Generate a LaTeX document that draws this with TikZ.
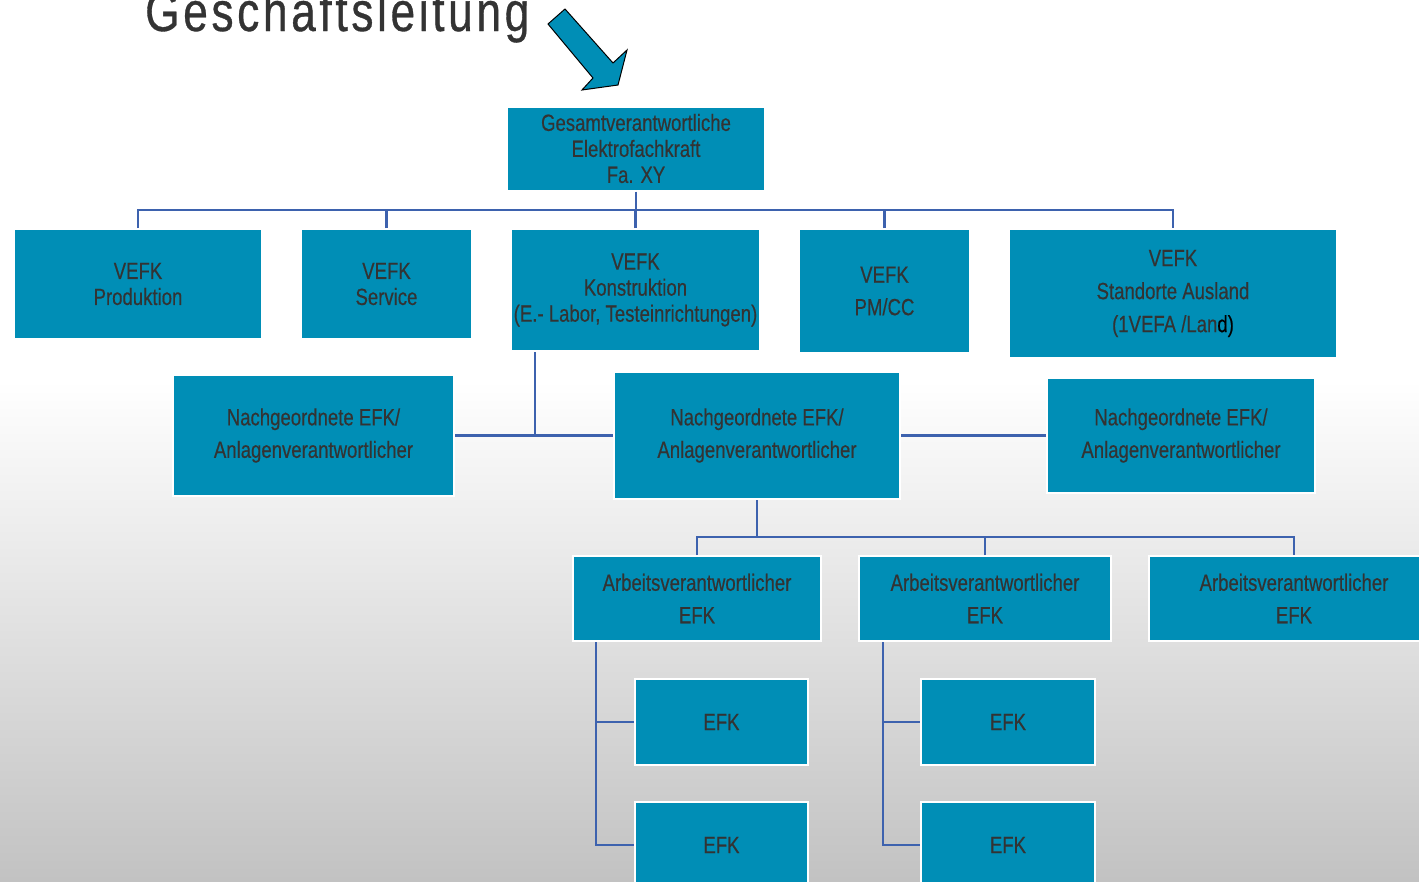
\documentclass[tikz,border=0pt]{standalone}
\usepackage{fontspec}
\setmainfont{Liberation Sans}[FakeStretch=0.79, FakeBold=0.35]
\newfontfamily\titlefont{Liberation Sans}[FakeStretch=0.79, LetterSpace=6.5, FakeBold=0.6]
\usetikzlibrary{positioning, calc}
\definecolor{boxblue}{HTML}{008EB6}
\definecolor{linkblue}{HTML}{3D62AE}
\definecolor{txtgray}{HTML}{333333}
\definecolor{bggray}{HTML}{C2C2C2}
\tikzset{
 orgbox/.style={draw=white, line width=2pt, fill=boxblue, text=txtgray, align=center, inner sep=0pt, font=\fontsize{23.5}{26}\selectfont},
 widelines/.style={font=\fontsize{23.5}{32.5}\selectfont},
 link/.style={draw=linkblue, line width=2.6pt}
}

\begin{document}
\begin{tikzpicture}[x=1pt, y=-1pt]
 \useasboundingbox (0,0) rectangle (1419,881);
 \clip (0,0) rectangle (1419,881);
 \fill[white] (0,0) rectangle (1419,380);
 \shade[top color=white, bottom color=bggray] (0,380) rectangle (1419,881);

 \node[anchor=base west, inner sep=0pt, text=txtgray, font=\titlefont\fontsize{56}{60}\selectfont] (title) at (145,31) {Geschäftsleitung};
 \draw[fill=boxblue, draw=black, line width=1pt] (565,9) -- (613,63) -- (627,50) -- (618,85) -- (582,90) -- (593,78) -- (548,24) -- cycle;

 \node[orgbox, minimum width=258pt, minimum height=84pt] (gevk) at (636,148.5) {Gesamtverantwortliche\\Elektrofachkraft\\Fa. XY};

 \node[orgbox, minimum width=248pt, minimum height=110pt] (vprod) at (138,284) {VEFK\\Produktion};
 \node[orgbox, minimum width=171pt, minimum height=110pt] (vserv) at (386.5,284) {VEFK\\Service};
 \node[orgbox, minimum width=249pt, minimum height=122pt] (vkonst) at (635.5,290) {VEFK\\Konstruktion\\(E.- Labor, Testeinrichtungen)};
 \node[orgbox, widelines, minimum width=171pt, minimum height=124pt] (vpmcc) at (884.5,291) {VEFK\\PM/CC};
 \node[orgbox, font=\fontsize{23.5}{33}\selectfont, minimum width=328pt, minimum height=129pt] (vausl) at (1173,293.5) {VEFK\\Standorte Ausland\\(1VEFA /Lan\textcolor{black}{d)}};

 \node[orgbox, widelines, minimum width=281pt, minimum height=121pt] (nefkl) at (313.5,435.5) {Nachgeordnete EFK/\\Anlagenverantwortlicher};
 \node[orgbox, widelines, minimum width=286pt, minimum height=127pt] (nefkm) at (757,435.5) {Nachgeordnete EFK/\\Anlagenverantwortlicher};
 \node[orgbox, widelines, minimum width=268pt, minimum height=115pt] (nefkr) at (1181,435.5) {Nachgeordnete EFK/\\Anlagenverantwortlicher};

 \node[orgbox, widelines, minimum width=248pt, minimum height=85pt] (avl) at (697,598.5) {Arbeitsverantwortlicher\\EFK};
 \node[orgbox, widelines, minimum width=252pt, minimum height=85pt] (avm) at (985,598.5) {Arbeitsverantwortlicher\\EFK};
 \node[orgbox, widelines, minimum width=290pt, minimum height=85pt] (avr) at (1294,598.5) {Arbeitsverantwortlicher\\EFK};

 \node[orgbox, minimum width=173pt, minimum height=86pt] (efka) at (721.5,722) {EFK};
 \node[orgbox, minimum width=173pt, minimum height=86pt] (efkb) at (721.5,845) {EFK};
 \node[orgbox, minimum width=174pt, minimum height=86pt] (efkc) at (1008,722) {EFK};
 \node[orgbox, minimum width=174pt, minimum height=86pt] (efkd) at (1008,845) {EFK};

 \coordinate (topbus) at (636,210);
 \coordinate (kjoin) at (535,435.5);
 \coordinate (lowbus) at (757,537);
 \draw[link] (gevk) -- (topbus);
 \draw[link] (vprod.north) |- (topbus) -| (vausl.north);
 \draw[link] (vserv.north) -- (vserv.north |- topbus);
 \draw[link] (vkonst.north) -- (vkonst.north |- topbus);
 \draw[link] (vpmcc.north) -- (vpmcc.north |- topbus);
 \draw[link] (vkonst.south -| kjoin) -- (kjoin);
 \draw[link] (nefkl) -- (nefkm);
 \draw[link] (nefkm) -- (nefkr);
 \draw[link] (nefkm) -- (lowbus);
 \draw[link] (avl.north) |- (lowbus) -| (avr.north);
 \draw[link] (avm.north) -- (avm.north |- lowbus);
 \draw[link] ([xshift=24pt]avl.south west) |- (efka.west);
 \draw[link] ([xshift=24pt]avl.south west) |- (efkb.west);
 \draw[link] ([xshift=25pt]avm.south west) |- (efkc.west);
 \draw[link] ([xshift=25pt]avm.south west) |- (efkd.west);
\end{tikzpicture}
\end{document}
